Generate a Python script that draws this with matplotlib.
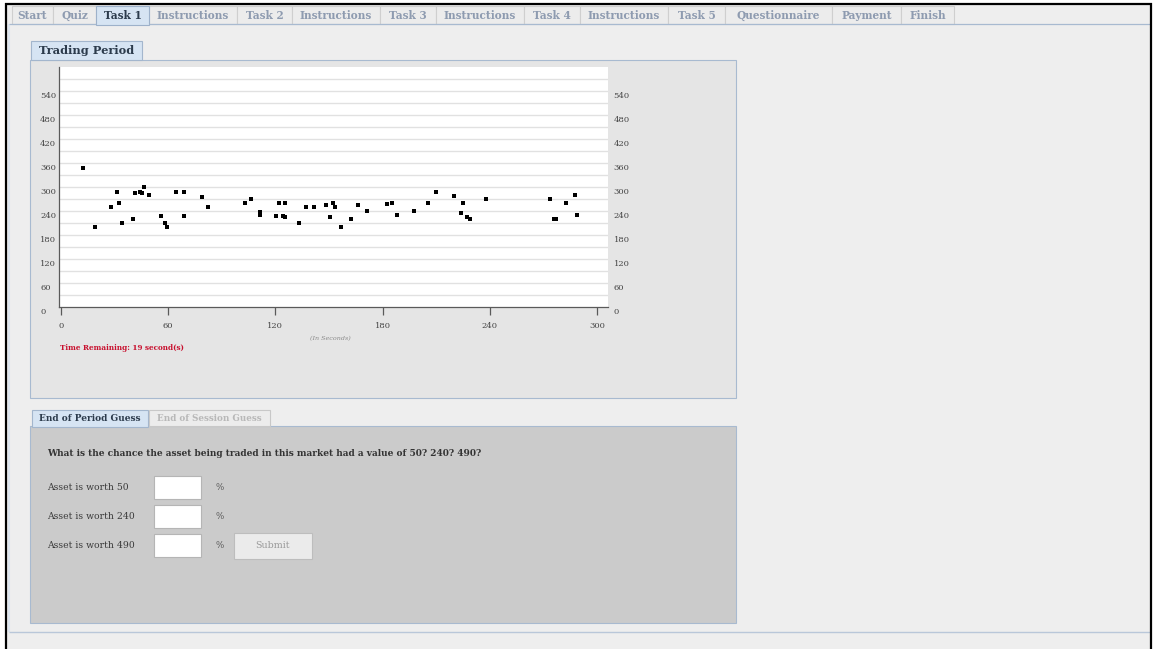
import numpy as np
import matplotlib
matplotlib.use('Agg')
import matplotlib.pyplot as plt
from matplotlib.patches import Rectangle
from matplotlib.transforms import ScaledTranslation

# trade times (seconds) and prices
trade_t = [12.1, 19.2, 28.1, 31.1, 32.2, 34.3, 40.2, 41.2, 44.2, 45.3, 46.2, 49.2,
           56.1, 58.1, 59.3, 64.1, 69.1, 69.1, 79.2, 82.2, 103.2, 106.2, 111.2, 111.2,
           120.2, 122.2, 124.3, 125.4, 125.2, 133.2, 137.2, 141.5, 148.2, 150.5, 152.2,
           153.5, 156.7, 162.6, 166.5, 171.5, 182.4, 185.4, 188.3, 197.4, 205.4, 210.0,
           220.2, 224.1, 225.0, 227.0, 229.1, 238.0, 273.7, 275.7, 277.2, 282.6, 287.8,
           288.7]
trade_p = [349, 200, 251, 289, 260, 210, 221, 285, 289, 285, 300, 281,
           229, 210, 200, 289, 289, 229, 275, 251, 260, 270, 239, 231,
           229, 260, 229, 225, 260, 210, 251, 251, 255, 226, 260,
           251, 200, 221, 255, 241, 258, 260, 230, 241, 260, 289,
           279, 236, 260, 226, 221, 270, 270, 221, 221, 260, 281,
           230]

x_ticks = [0, 60, 120, 180, 240, 300]
y_ticks = [0, 60, 120, 180, 240, 300, 360, 420, 480, 540]
grid_levels = [30 * k for k in range(1, 20)]

tab_labels = ['Start', 'Quiz', 'Task 1', 'Instructions', 'Task 2', 'Instructions',
              'Task 3', 'Instructions', 'Task 4', 'Instructions', 'Task 5',
              'Questionnaire', 'Payment', 'Finish']
tab_edges = [12, 53, 96, 149, 237, 292, 380, 436, 524, 580, 668, 725, 832, 901, 954]
active_tab = 2

question = 'What is the chance the asset being traded in this market had a value of 50? 240? 490?'
asset_values = [50, 240, 490]

W, H = 1155, 649
SERIF = 'DejaVu Serif'
BLUE_EDGE = '#a8bad0'
TAB_BLUE = '#d6e4f3'
DARK = '#2c3b4c'

fig = plt.figure(figsize=(W / 100, H / 100), dpi=100)
fig.patch.set_facecolor('white')
bg = fig.add_axes([0, 0, 1, 1])
bg.set_xlim(0, W)
bg.set_ylim(H, 0)
bg.axis('off')


def box(x0, y0, x1, y1, fc, ec='none', lw=0.8, z=1):
    bg.add_patch(Rectangle((x0, y0), x1 - x0, y1 - y0, facecolor=fc,
                           edgecolor=ec, linewidth=lw, zorder=z))


def line(x0, y0, x1, y1, color, lw=0.8, z=2):
    bg.plot([x0, x1], [y0, y1], color=color, lw=lw, solid_capstyle='butt', zorder=z)


def txt(x, y, s, size, color='#333333', weight='normal', ha='left', style='normal'):
    bg.text(x, y, s, fontsize=size, color=color, fontweight=weight, ha=ha,
            va='center', family=SERIF, style=style, zorder=5)


# page and screenshot frame
box(7, 5, 1150, 649, '#eeeeee', z=0)
line(6, 3, 6, 649, 'black', lw=1.6, z=6)
line(5, 4, 1152, 4, 'black', lw=1.6, z=6)
line(1151, 3, 1151, 649, 'black', lw=1.6, z=6)

# navigation tabs
for i, lab in enumerate(tab_labels):
    x0, x1 = tab_edges[i], tab_edges[i + 1]
    if i == active_tab:
        box(x0, 6, x1, 24.5, TAB_BLUE, ec='#9db1ca', z=3)
        txt((x0 + x1) / 2, 15.5, lab, 7.6, DARK, 'bold', 'center')
    else:
        box(x0, 6, x1, 24, '#ececec', ec='#cfcfcf', z=2)
        txt((x0 + x1) / 2, 15.5, lab, 7.6, '#8e9bb0', 'bold', 'center')
line(9, 24, 1150, 24, BLUE_EDGE, lw=0.9, z=2.5)

# content container
line(9, 24, 9, 632, '#dde6f0', lw=1.5)
line(9, 632, 1150, 632, '#b9c7d9', lw=1.0)

# trading period panel
box(30, 60, 736, 398, '#e5e5e5', ec=BLUE_EDGE)
box(31, 41, 142, 60, TAB_BLUE, ec='#a3b6cd', z=2)
txt(87, 51, 'Trading Period', 8.2, DARK, 'bold', 'center')
txt(330, 339, '(In Seconds)', 4.6, '#8a8a8a', ha='center', style='italic')
txt(60, 348.5, 'Time Remaining: 19 second(s)', 5.2, '#c8102e', 'bold')

# guess panel
box(30, 426, 736, 623, '#cbcbcb', ec=BLUE_EDGE)
box(32, 410, 148, 426.5, TAB_BLUE, ec='#a3b6cd', z=2)
txt(90, 418.5, 'End of Period Guess', 6.5, DARK, 'bold', 'center')
box(149, 410, 270, 426, '#ececec', ec='#c8c8c8', z=2)
txt(209.5, 418.5, 'End of Session Guess', 6.3, '#b8b8b8', 'bold', 'center')
txt(47, 453.5, question, 6.5, '#333333', 'bold')
row_y = [487.5, 516.3, 545.3]
for v, y in zip(asset_values, row_y):
    txt(47, y, 'Asset is worth %d' % v, 6.7, '#3a3a3a')
    box(154, y - 11.5, 201, y + 11.5, 'white', ec='#b5b5b5', z=2)
    txt(216, y, '%', 6.2, '#555555')
box(234, 533, 312, 559, '#ebebeb', ec='#bdbdbd', z=2)
txt(273, 546, 'Submit', 6.8, '#9a9a9a', ha='center')

# price chart, 0..306 s horizontally, 0..600 vertically
x_left, x_right, y_top, y_bottom = 59.2, 607.7, 67.0, 307.3
ax = fig.add_axes([x_left / W, 1 - y_bottom / H, (x_right - x_left) / W, (y_bottom - y_top) / H])
ax.set_facecolor('white')
ax.set_xlim(-1, 306)
ax.set_ylim(0, 600)
for g in grid_levels:
    ax.axhline(g, color='#e1e1e1', lw=1.0, zorder=1)
ax.plot(trade_t, trade_p, 's', color='black', ms=3.2, mew=0, zorder=3)

for s in ['top', 'right']:
    ax.spines[s].set_visible(False)
for s in ['left', 'bottom']:
    ax.spines[s].set_color('#5a5a5a')
    ax.spines[s].set_linewidth(0.9)

ax.set_xticks(x_ticks)
ax.set_xticklabels([str(v) for v in x_ticks], family=SERIF, fontsize=6.0, color='#444444')
ax.tick_params(axis='x', direction='out', length=5.8, width=0.9, color='#5a5a5a', pad=4.5)

shift = ScaledTranslation(0, -4 / 100, fig.dpi_scale_trans)
ax.set_yticks(y_ticks)
ax.set_yticklabels([str(v) for v in y_ticks], family=SERIF, fontsize=6.0, color='#444444')
ax.tick_params(axis='y', length=0, pad=13.7)
for lab in ax.get_yticklabels():
    lab.set_horizontalalignment('left')
    lab.set_transform(lab.get_transform() + shift)

ax2 = ax.twinx()
ax2.set_ylim(0, 600)
ax2.set_yticks(y_ticks)
ax2.set_yticklabels([str(v) for v in y_ticks], family=SERIF, fontsize=6.0, color='#444444')
ax2.tick_params(axis='y', length=0, pad=4.3)
for lab in ax2.get_yticklabels():
    lab.set_transform(lab.get_transform() + shift)
for s in ax2.spines.values():
    s.set_visible(False)

fig.savefig('out.png', dpi=100, facecolor=fig.get_facecolor())
